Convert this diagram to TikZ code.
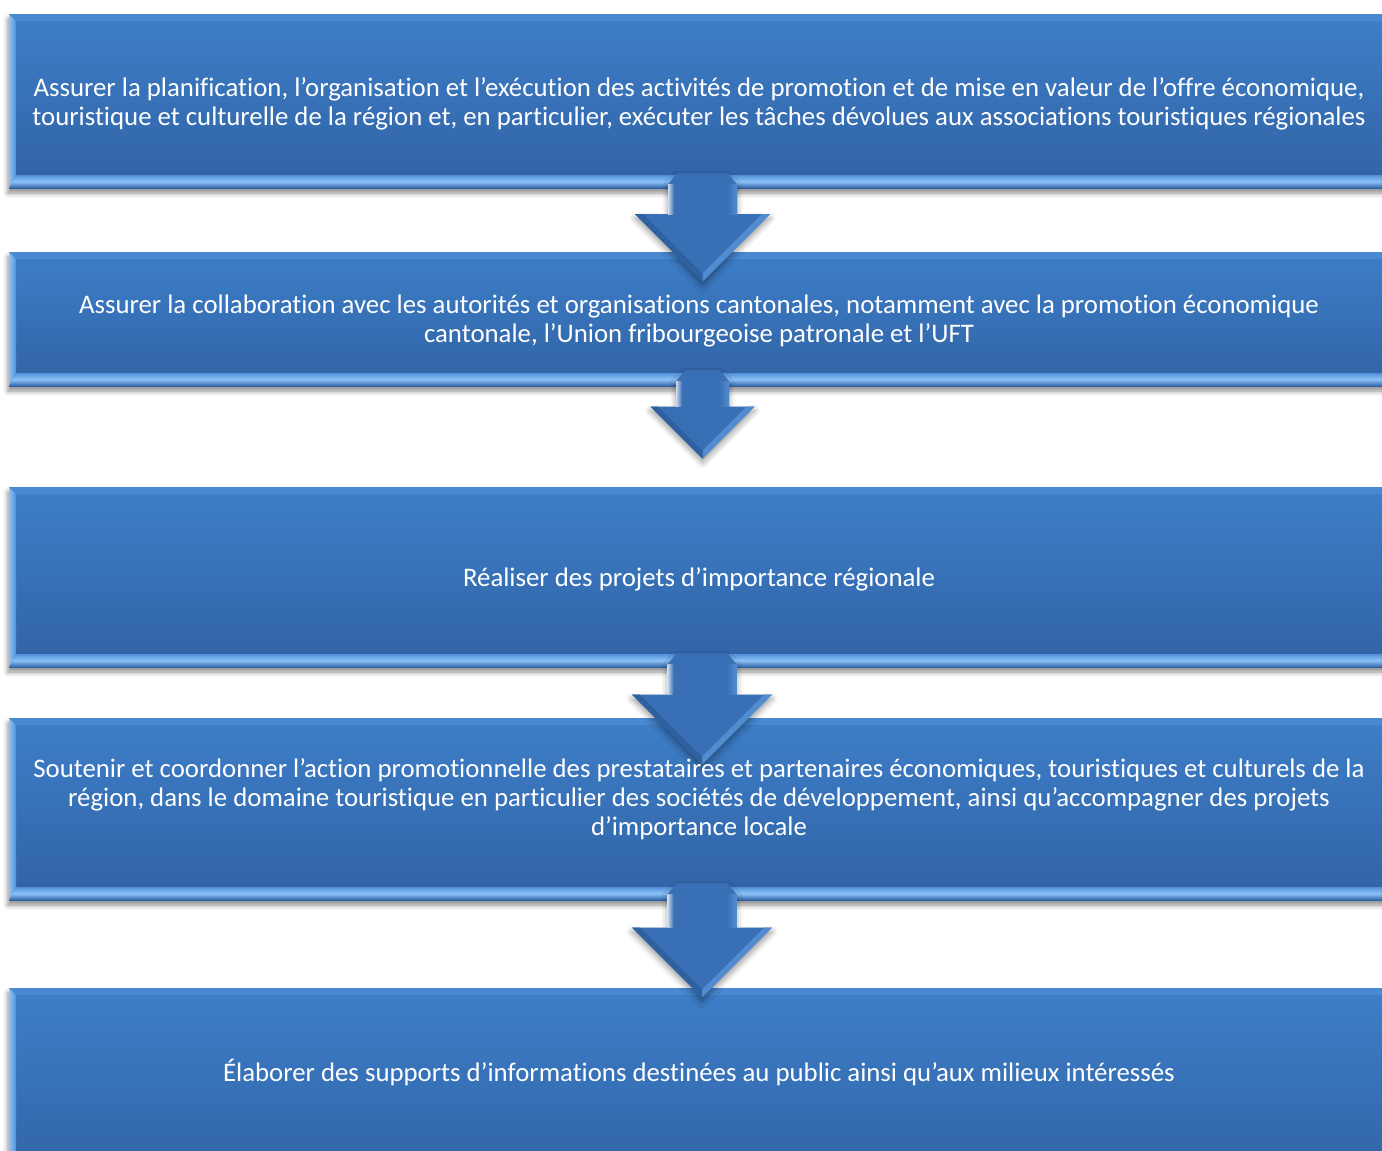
\documentclass[tikz,border=0pt]{standalone}
\usepackage{fontspec}
\setmainfont{Carlito}[Ligatures=NoCommon]
\usetikzlibrary{calc,shadows.blur}

\definecolor{boxtop}{RGB}{61,126,201}
\definecolor{boxbottom}{RGB}{49,99,164}
\definecolor{bevellight}{RGB}{140,194,246}
\definecolor{bevelmid}{RGB}{82,145,218}
\definecolor{beveldark}{RGB}{50,100,166}
\definecolor{arrowblue}{RGB}{57,112,181}
\definecolor{arrowdark}{RGB}{47,96,160}
\definecolor{arrowlight}{RGB}{82,140,208}

\tikzset{
  etape/.style={rectangle,inner sep=0pt,minimum width=690pt,
    top color=boxtop,bottom color=boxbottom,
    blur shadow={shadow xshift=-0.5pt,shadow yshift=-2.5pt,shadow blur radius=2.5pt,shadow opacity=45},
    path picture={
      \coordinate (nw) at (path picture bounding box.north west);
      \coordinate (ne) at (path picture bounding box.north east);
      \coordinate (sw) at (path picture bounding box.south west);
      \coordinate (se) at (path picture bounding box.south east);
      \fill[bevelmid,opacity=0.6] (nw) -- (ne) -- ([shift={(-7,7)}]ne) -- ([shift={(7,7)}]nw) -- cycle;
      \shade[left color=bevellight,right color=bevelmid] (nw) -- ([shift={(7,7)}]nw) -- ([shift={(7,-13)}]sw) -- (sw) -- cycle;
      \shade[left color=bevelmid,right color=beveldark] (ne) -- ([shift={(-7,7)}]ne) -- ([shift={(-7,-13)}]se) -- (se) -- cycle;
      \shade[top color=bevelmid,bottom color=beveldark,middle color=bevellight] (sw) -- ([shift={(7,-13)}]sw) -- ([shift={(-7,-13)}]se) -- (se) -- cycle;
    }},
  texte/.style={text=white,align=center,inner sep=0pt,yshift=-1.2pt,font=\fontsize{13.4pt}{14.5pt}\selectfont},
  fleche/.style={fill=arrowblue,
    blur shadow={shadow xshift=0pt,shadow yshift=-2pt,shadow blur radius=3pt,shadow opacity=40}}
}

% #1 start, #2 tip, #3 half shaft width, #4 half head width
\newcommand{\flechebas}[4]{%
  \fill[fleche] let \p1=(#1), \p2=(#2) in
    (\x1-#3+4.5pt,\y1) -- (\x1+#3-4.5pt,\y1) -- (\x1+#3,\y1-5.5pt) -- (\x1+#3,\y2+#4)
    -- (\x1+#4,\y2+#4) -- (\x1,\y2) -- (\x1-#4,\y2+#4) -- (\x1-#3,\y2+#4)
    -- (\x1-#3,\y1-5.5pt) -- cycle;
  \shade[left color=white!75!arrowblue,right color=arrowblue] let \p1=(#1), \p2=(#2) in
    (\x1-#3,\y1-5.5pt) rectangle (\x1-#3+3pt,\y2+#4);
  \shade[left color=arrowblue,right color=arrowlight] let \p1=(#1), \p2=(#2) in
    (\x1+#3-5pt,\y1-5.5pt) rectangle (\x1+#3,\y2+#4);
  \fill[arrowlight] let \p1=(#1), \p2=(#2) in
    (\x1,\y2) -- (\x1+#4,\y2+#4) -- (\x1+#4-4pt,\y2+#4) -- (\x1,\y2+4pt) -- cycle;
  \fill[arrowdark] let \p1=(#1), \p2=(#2) in
    (\x1,\y2) -- (\x1-#4,\y2+#4) -- (\x1-#4+4pt,\y2+#4) -- (\x1,\y2+4pt) -- cycle;
}

\begin{document}
\begin{tikzpicture}[x=0.5pt,y=-0.5pt]
    \clip (0,0) rectangle (1382,1151);

    \node[etape,minimum height=87pt] (b1) at (699,101) {};
    \node[etape,minimum height=67pt] (b2) at (699,319) {};
    \node[etape,minimum height=90pt] (b3) at (699,577) {};
    \node[etape,minimum height=91pt] (b4) at (699,809) {};
    \node[etape,minimum height=100pt] (b5) at (699,1088) {};

    \flechebas{[xshift=1.75pt,yshift=7.5pt]b1.south}{[xshift=1.75pt,yshift=-15pt]b2.north}{17.25pt}{33.75pt}
    \flechebas{[xshift=1.75pt,yshift=8pt]b2.south}{[xshift=1.75pt,yshift=14pt]b3.north}{13.25pt}{26pt}
    \flechebas{[xshift=1.5pt,yshift=7pt]b3.south}{[xshift=1.5pt,yshift=-23.5pt]b4.north}{17.25pt}{35pt}
    \flechebas{[xshift=1.5pt,yshift=8.5pt]b4.south}{[xshift=1.5pt,yshift=-5pt]b5.north}{17.25pt}{35pt}

    \node[texte] (t1) at (b1.center) {Assurer la planification, l’organisation et l’exécution des activités de promotion et de mise en valeur de l’offre économique,\\touristique et culturelle de la région et, en particulier, exécuter les tâches dévolues aux associations touristiques régionales};
    \node[texte] (t2) at (b2.center) {Assurer la collaboration avec les autorités et organisations cantonales, notamment avec la promotion économique\\cantonale, l’Union fribourgeoise patronale et l’UFT};
    \node[texte] (t3) at (b3.center) {Réaliser des projets d’importance régionale};
    \node[texte] (t4) at ([yshift=6pt]b4.center) {Soutenir et coordonner l’action promotionnelle des prestataires et partenaires économiques, touristiques et culturels de la\\région, dans le domaine touristique en particulier des sociétés de développement, ainsi qu’accompagner des projets\\d’importance locale};
    \node[texte] (t5) at ([yshift=9pt]b5.center) {Élaborer des supports d’informations destinées au public ainsi qu’aux milieux intéressés};
\end{tikzpicture}
\end{document}
